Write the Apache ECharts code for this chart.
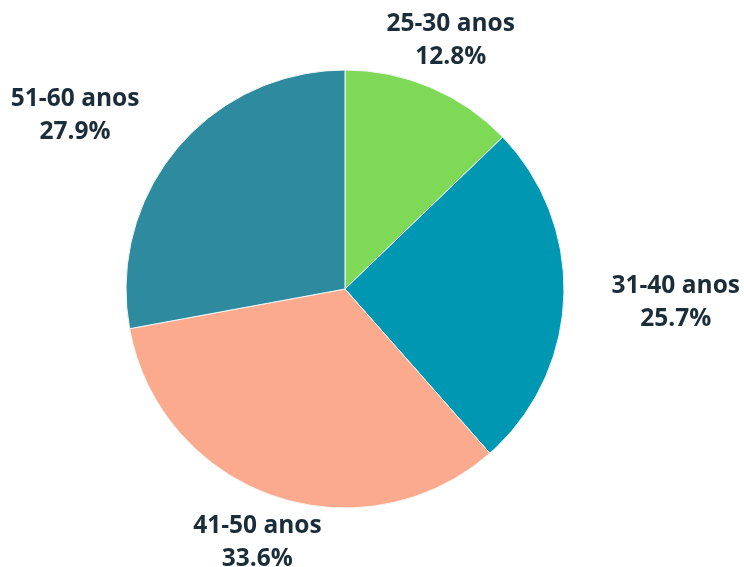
<!DOCTYPE html>
<html>
<head>
<meta charset="utf-8">
<title>Faixa etária</title>
<script src="https://cdn.jsdelivr.net/npm/echarts@6/dist/echarts.min.js"></script>
<style>
    html, body { margin: 0; padding: 0; background: #fff; }
    #main { width: 744px; height: 567px; }
</style>
</head>
<body>
<div id="main"></div>
<script>
    // dados
    var faixas = ['25-30 anos', '31-40 anos', '41-50 anos', '51-60 anos'];
    var percentuais = [12.8, 25.7, 33.6, 27.9];
    var cores = ['#7ed957', '#0097b2', '#fcaa8e', '#2d8a9f'];

    var chart = echarts.init(document.getElementById('main'));

    var cx = 345, cy = 289, raio = 219;
    // distância do centro até o rótulo e pequeno ajuste de ângulo (graus)
    var distRotulo = [270, 331, 268, 321];
    var ajusteAng = [0, 0, 0, -7];

    var total = percentuais.reduce(function (a, b) { return a + b; }, 0);
    var meioAng = [], acc = 0;
    for (var i = 0; i < percentuais.length; i++) {
        meioAng.push((acc + percentuais[i] / 2) / total * 360);
        acc += percentuais[i];
    }

    var dados = faixas.map(function (nome, i) {
        return { name: nome, value: percentuais[i], itemStyle: { color: cores[i] } };
    });

    chart.setOption({
        backgroundColor: '#ffffff',
        animation: false,
        series: [{
            type: 'pie',
            center: [cx, cy],
            radius: [0, raio],
            startAngle: 90,
            clockwise: true,
            data: dados,
            itemStyle: { borderColor: '#f4f7f4', borderWidth: 1 },
            labelLine: { show: false },
            label: {
                show: true,
                position: 'outside',
                formatter: '{b}\n{c}%',
                fontFamily: 'Open Sans',
                fontWeight: 'bold',
                fontSize: 24.5,
                lineHeight: 33,
                color: '#1b2d38',
                align: 'center',
                overflow: 'none',
                width: 200
            },
            labelLayout: function (p) {
                var i = p.dataIndex;
                var a = (meioAng[i] + ajusteAng[i]) * Math.PI / 180;
                return {
                    x: cx + distRotulo[i] * Math.sin(a),
                    y: cy - distRotulo[i] * Math.cos(a),
                    align: 'center',
                    verticalAlign: 'middle'
                };
            }
        }]
    });
</script>
</body>
</html>
